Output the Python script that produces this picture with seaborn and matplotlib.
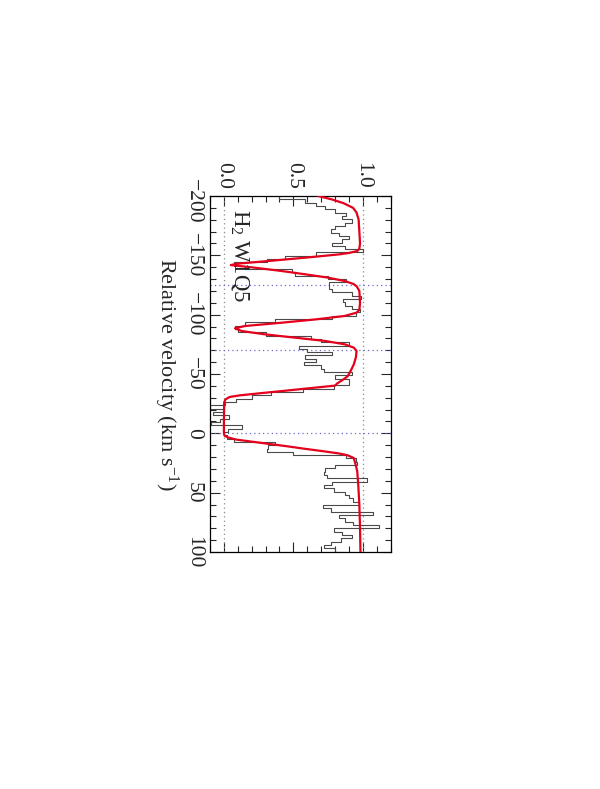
import numpy as np
import matplotlib
matplotlib.use("Agg")
import matplotlib.pyplot as plt
import matplotlib.transforms as mtransforms
from matplotlib.ticker import MultipleLocator
import seaborn as sns

# ---- data ----
velocity = [-198.6, -195.8, -193.0, -190.2, -187.4, -184.6, -181.8, -179.0, -176.2, -173.4,
            -170.6, -167.8, -165.0, -162.2, -159.4, -156.6, -153.8, -151.0, -148.2, -145.4,
            -142.6, -139.8, -137.0, -134.2, -131.4, -128.6, -125.8, -123.0, -120.2, -117.4,
            -114.6, -111.8, -109.0, -106.2, -103.4, -100.6, -97.8, -95.0, -92.2, -89.4,
            -86.6, -83.8, -81.0, -78.2, -75.4, -72.6, -69.8, -67.0, -64.2, -61.4,
            -58.6, -55.8, -53.0, -50.2, -47.4, -44.6, -41.8, -39.0, -36.2, -33.4,
            -30.6, -27.8, -25.0, -22.2, -19.4, -16.6, -13.8, -11.0, -8.2, -5.4,
            -2.6, 0.2, 3.0, 5.8, 8.6, 11.4, 14.2, 17.0, 19.8, 22.6,
            25.4, 28.2, 31.0, 33.8, 36.6, 39.4, 42.2, 45.0, 47.8, 50.6,
            53.4, 56.2, 59.0, 61.8, 64.6, 67.4, 70.2, 73.0, 75.8, 78.6,
            81.4, 84.2, 87.0, 89.8, 92.6, 95.4, 98.2, 101.0]
flux = [0.40, 0.585, 0.66, 0.73, 0.80, 0.88, 0.85, 0.92, 0.87, 0.80,
        0.77, 0.83, 0.90, 0.85, 0.78, 0.87, 1.00, 0.66, 0.44, 0.31,
        0.07, 0.15, 0.49, 0.51, 0.75, 0.88, 0.76, 0.76, 0.78, 0.92,
        0.99, 0.86, 0.87, 0.92, 0.98, 0.95, 0.78, 0.37, 0.15, 0.08,
        0.10, 0.30, 0.63, 0.70, 0.90, 0.54, 0.60, 0.78, 0.585, 0.66,
        0.58, 0.70, 0.72, 0.92, 0.80, 0.90, 0.90, 0.79, 0.57, 0.34,
        0.20, 0.09, 0.01, -0.10, 0.00, -0.08, 0.04, -0.03, -0.09, 0.13,
        0.03, 0.00, 0.02, 0.07, 0.37, 0.32, 0.31, 0.50, 0.88, 0.95,
        0.96, 0.80, 0.73, 0.72, 0.74, 1.03, 0.78, 0.72, 0.79, 0.87,
        0.90, 0.93, 0.97, 0.71, 0.77, 1.07, 0.83, 0.87, 0.93, 1.12,
        0.79, 0.85, 0.92, 0.84, 0.77, 0.72, 0.80, 0.87]
bin_width = 2.8

model_v = [-200, -197, -194, -190, -186, -180, -170, -160, -155.5, -153.6, -152, -150.8,
           -148, -145.2, -143, -141.8, -139.6, -136.8, -134, -131.2, -128.3, -126, -124,
           -120, -110, -104, -101.7, -98.9, -96, -93.2, -90.4, -88.5, -86.2, -83.4, -80.6,
           -77.8, -75, -72.2, -69.4, -64, -58, -52, -48, -45, -42, -40.2, -38, -36, -34,
           -32, -30.6, -28.4, -26, -10, 0, 2, 3.5, 5.3, 7, 9, 11, 13, 15, 17, 18.5, 20.8,
           25, 32, 45, 60, 80, 100]
model_f = [0.68, 0.78, 0.86, 0.93, 0.955, 0.97, 0.975, 0.98, 0.975, 0.96, 0.90, 0.83,
           0.585, 0.32, 0.10, 0.05, 0.22, 0.415, 0.585, 0.75, 0.87, 0.93, 0.955,
           0.975, 0.98, 0.975, 0.955, 0.87, 0.66, 0.415, 0.15, 0.08, 0.128, 0.296, 0.513,
           0.73, 0.87, 0.935, 0.955, 0.95, 0.935, 0.91, 0.89, 0.855, 0.815, 0.80, 0.616, 0.45, 0.28,
           0.115, 0.04, 0.01, 0.002, 0.0, 0.0, 0.005, 0.03, 0.09, 0.20, 0.33, 0.46, 0.58, 0.71, 0.83, 0.89, 0.935,
           0.945, 0.96, 0.968, 0.975, 0.98, 0.983]

component_velocities = [-125.3, -70.5, 0.0]
flux_ticks = [0.0, 0.5, 1.0]
flux_tick_labels = ["0.0", "0.5", "1.0"]
velocity_ticks = [-200, -150, -100, -50, 0, 50, 100]
label_text = "H$_2$ W1Q5"

# ---- style ----
sns.set_style("ticks")
plt.rcParams["font.family"] = ["Liberation Serif", "DejaVu Serif"]
plt.rcParams["mathtext.fontset"] = "custom"
plt.rcParams["mathtext.rm"] = "Liberation Serif"
plt.rcParams["mathtext.it"] = "Liberation Serif:italic"
plt.rcParams["axes.unicode_minus"] = True

fig = plt.figure(figsize=(6.0, 7.89), dpi=100)
ax = fig.add_axes([0.35, 0.3004, 0.301, 0.4512])

# histogram-style spectrum (constant flux over each velocity bin), rotated view
v = np.asarray(velocity)
f = np.asarray(flux)
half = bin_width / 2.0
step_v = np.column_stack([v - half, v + half]).ravel()
step_f = np.repeat(f, 2)

for fv in [0.0, 1.0]:
    ax.axvline(fv, color="#8a8a8a", ls=(0, (1, 2.5)), lw=0.9, zorder=1)
for cv in component_velocities:
    ax.axhline(cv, color="#6a6ad0", ls=(0, (1, 2.5)), lw=0.9, zorder=1)

sns.lineplot(x=step_f, y=step_v, sort=False, estimator=None, ax=ax,
             color="#4a4a4a", lw=0.8, zorder=2)
sns.lineplot(x=model_f, y=model_v, sort=False, estimator=None, ax=ax,
             color="#e4001c", lw=1.6, zorder=3)

ax.set_xlim(-0.1, 1.2)
ax.set_ylim(100, -200)

ax.set_xticks(flux_ticks)
ax.set_xticklabels(flux_tick_labels)
ax.xaxis.set_minor_locator(MultipleLocator(0.1))
ax.set_yticks(velocity_ticks)
ax.yaxis.set_minor_locator(MultipleLocator(10))

ax.tick_params(axis="x", which="both", direction="in", top=True, bottom=True,
               labeltop=True, labelbottom=False)
ax.tick_params(axis="y", which="both", direction="in", left=True, right=True,
               labelleft=True, labelright=False)
ax.tick_params(which="major", length=7, width=0.8, labelsize=15.5, pad=5)
ax.tick_params(which="minor", length=4, width=0.8)

for t in ax.get_xticklabels():
    t.set_rotation(-90)
    t.set_ha("center")
    t.set_va("bottom")
ylabels = ax.get_yticklabels()
for t in ylabels:
    t.set_rotation(-90)
    t.set_ha("right")
    t.set_va("center")
# the first velocity label sits slightly inside the frame in the reference
ylabels[0].set_transform(ylabels[0].get_transform()
                         + mtransforms.ScaledTranslation(0, -0.05, fig.dpi_scale_trans))

ax.set_xlabel("")
ax.set_ylabel("Relative velocity (km s$^{-1}$)", fontsize=16, labelpad=3)
ax.yaxis.label.set_rotation(-90)
ax.yaxis.label.set_va("top")

ax.text(0.036, -189, label_text, rotation=-90, ha="left", va="top", fontsize=16.5, zorder=4)

for s in ax.spines.values():
    s.set_linewidth(0.9)
    s.set_color("black")

fig.savefig("out.png", dpi=100)
